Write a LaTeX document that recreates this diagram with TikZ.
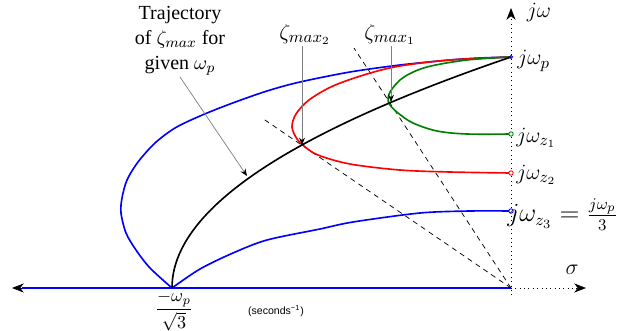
\documentclass[tikz,border=0pt]{standalone}
\usepackage{fontspec}
\setmainfont{Liberation Serif}
\newfontfamily\helv{Liberation Sans}
\usetikzlibrary{arrows.meta}
\definecolor{locgreen}{RGB}{0,128,0}
\begin{document}
\begin{tikzpicture}[x=0.55pt,y=-0.55pt,
  curve/.style={line width=0.9pt,line join=round},
  axisline/.style={line width=0.4pt,dotted},
  bigtip/.style={-{Stealth[length=6.5pt,width=5pt,inset=2pt]}},
  annot/.style={draw=gray,line width=0.4pt,-{Stealth[length=4pt,width=3.2pt,black]}},
  guide/.style={line width=0.4pt,dash pattern=on 2.8pt off 2.4pt},
  mlabel/.style={inner sep=0pt,font=\fontsize{12.5}{15}\selectfont},
  endmark/.style={line width=0.5pt,fill=white}]
\useasboundingbox (0,0) rectangle (643,331);
% key points
\coordinate (O) at (511,288);
\coordinate (P) at (511,57);
\coordinate (Z1) at (511,134);
\coordinate (Z2) at (511,173);
\coordinate (Z3) at (511,211);
\coordinate (S) at (172,288);
\coordinate (Ytop) at (511,8);
\coordinate (Ybot) at (511,295);
\coordinate (Xend) at (586,288);
\coordinate (Xleft) at (12,288);
\coordinate (Xblue) at (22,288);
% axes
\draw[axisline,bigtip] (Ybot) -- (Ytop);
\draw[axisline,bigtip] (O) -- (Xend);
\draw[line width=0.4pt,bigtip] (O) -- (Xleft);
\draw[curve,blue,line width=0.8pt] (O) -- (Xblue);
% dashed damping lines
\coordinate (D2) at (262,118);
\coordinate (D1) at (354,48);
\draw[guide] (O) -- (D2);
\draw[guide] (O) -- (D1);
% blue locus
\draw[curve,blue] plot[smooth,tension=0.5] coordinates {(172,288) (150,268) (136,250) (126,233) (121,213) (122,198) (127,180) (138,162) (155,143) (175,128) (200,116) (230,104) (267,91) (300,82) (350,72) (400,65) (450,60) (480,58) (511,57)};
\draw[curve,blue] plot[smooth,tension=0.5] coordinates {(172,288) (200,269) (233,253) (267,240) (320,229) (353,222) (420,213) (470,211) (511,211)};
% red locus
\draw[curve,red] plot[smooth,tension=0.55] coordinates {(511,57) (450,60) (400,66) (367,74) (333,86) (309,100) (296,114) (292,127) (297,139) (304,146) (318,155) (350,164) (400,170) (450,172) (511,173)};
% green locus
\draw[curve,locgreen] plot[smooth,tension=0.55] coordinates {(511,57) (467,60) (427,67) (404,77) (392,89) (388,98) (390,105) (398,113) (413,123) (437,131) (467,134) (511,134)};
% trajectory of zeta max
\draw[curve,black] plot[domain=0:1,samples=50] ({172+339*\x*\x},{288-231*\x});
% end markers
\draw[endmark,draw=locgreen] (Z1) circle (2.2);
\draw[endmark,draw=red] (Z2) circle (2.2);
\draw[endmark,draw=blue] (Z3) circle (2.2);
\draw[line width=0.5pt,draw=blue] (P) circle (1.6);
% labels
\node[mlabel] (jw) at (539,12) {$j\omega$};
\node[mlabel] (sig) at (572,270) {$\sigma$};
\node[mlabel,anchor=west] (lp) at (517,61) {$j\omega_p$};
\node[mlabel,anchor=west] (lz1) at (516,138) {$j\omega_{z_1}$};
\node[mlabel,anchor=west] (lz2) at (516,175) {$j\omega_{z_2}$};
\node[mlabel,anchor=west,font=\fontsize{13.5}{16}\selectfont] (lz3) at (507,215) {$j\omega_{z_3}=\frac{j\omega_p}{3}$};
\node[mlabel] (zm2) at (305,34) {$\zeta_{max_2}$};
\node[mlabel] (zm1) at (390,34) {$\zeta_{max_1}$};
\node[inner sep=0pt,font=\fontsize{10}{12}\selectfont] (fr) at (174,311) {$\displaystyle\frac{-\omega_p}{\sqrt{3}}$};
\node[inner sep=0pt,font=\helv\fontsize{5.8}{7}\selectfont] (units) at (276,311) {(seconds\textsuperscript{−1})};
\node[align=center,inner sep=0pt,font=\fontsize{11}{13.75}\selectfont] (traj) at (180,41) {Trajectory\\of $\zeta_{max}$ for\\given $\omega_p$};
% annotation arrows
\coordinate (a1s) at (180,77);
\coordinate (a1e) at (247,176);
\coordinate (a2s) at (302,46);
\coordinate (a2e) at (302,145);
\coordinate (a3s) at (391,46);
\coordinate (a3e) at (391,102);
\draw[annot] (a1s) -- (a1e);
\draw[annot] (a2s) -- (a2e);
\draw[annot] (a3s) -- (a3e);
\end{tikzpicture}
\end{document}
